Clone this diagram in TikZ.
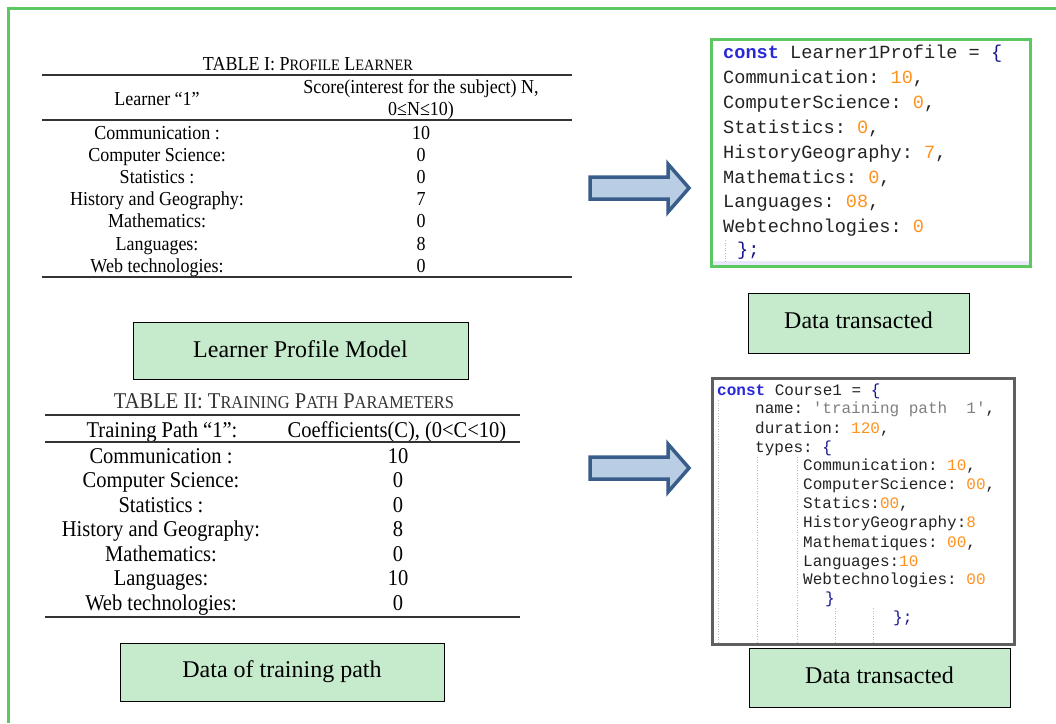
\documentclass[tikz,border=0pt]{standalone}
\usepackage{fontspec}
\setmainfont{Liberation Serif}
\setmonofont{Liberation Mono}
\definecolor{frameg}{RGB}{92,200,98}
\definecolor{boxg}{RGB}{198,235,204}
\definecolor{arrfill}{RGB}{185,205,228}
\definecolor{arrdraw}{RGB}{56,93,138}
\definecolor{kw}{RGB}{40,40,215}
\definecolor{num}{RGB}{255,145,30}
\definecolor{idc}{RGB}{35,35,35}
\definecolor{pun}{RGB}{20,20,140}
\definecolor{strc}{RGB}{128,128,128}
\definecolor{guide}{RGB}{185,185,185}
\definecolor{codeborder}{RGB}{95,95,95}
\definecolor{lav}{RGB}{232,232,250}
\newcommand\fsc[1]{\scalebox{0.8}{#1}}
\newcommand\vst[1]{\scalebox{1}[1.1]{#1}}
\newcommand\kwd[1]{\textcolor{kw}{#1}}
\newcommand\nm[1]{\textcolor{num}{#1}}
\newcommand\pn[1]{\textcolor{pun}{#1}}
\begin{document}
\begin{tikzpicture}[x=1pt,y=-1pt,
  labelbox/.style={draw=black, line width=1pt, fill=boxg, inner sep=0,
    font=\fontsize{24}{28}\selectfont},
  tI/.style={anchor=base, inner sep=0, font=\fontsize{18}{20}\selectfont},
  tII/.style={anchor=base, inner sep=0, font=\fontsize{20.5}{22}\selectfont},
  rule/.style={line width=1.5pt, draw=black!80},
  codeA/.style={anchor=base west, inner sep=0, text=idc, font=\fontsize{18.6}{20}\ttfamily},
  codeB/.style={anchor=base west, inner sep=0, text=idc, font=\fontsize{16}{18}\ttfamily},
  guideline/.style={draw=guide, line width=0.6pt, dotted},
  bigarrow/.style={fill=arrfill, draw=arrdraw, line width=3.5pt, line join=miter}
]
\useasboundingbox (0,0) rectangle (1056,723);
\fill[white] (0,0) rectangle (1056,723);

% outer frame (open to the right and bottom)
\draw[frameg, line width=2.8pt] (8.7,723) -- (8.7,8.7) -- (1056,8.7);

% ---------- TABLE I ----------
\node[tI] (t1title) at (308,70) {\vst{TABLE I: P\fsc{ROFILE} L\fsc{EARNER}}};
\draw[rule] (42,75) -- (572,75);
\node[tI] (t1h1) at (157,105) {\vst{Learner “1”}};
\node[tI] (t1h2a) at (421,93) {\vst{Score(interest for the subject) N,}};
\node[tI] (t1h2b) at (421,115) {\vst{0≤N≤10)}};
\draw[rule] (42,120) -- (572,120);
\foreach \lab/\val [count=\i] in {Communication :/10, Computer Science:/0, Statistics :/0,
   History and Geography:/7, Mathematics:/0, Languages:/8, Web technologies:/0}{
  \node[tI] (t1l\i) at (157,{139+(\i-1)*22.2}) {\vst{\lab}};
  \node[tI] (t1v\i) at (421,{139+(\i-1)*22.2}) {\vst{\val}};
}
\draw[rule] (42,277) -- (572,277);

\node[labelbox, minimum width=335, minimum height=57] (lpm) at (300.5,350.5) {\raisebox{2pt}{Learner Profile Model}};

% ---------- TABLE II ----------
\node[tII, text=black!80] (t2title) at (284,408) {\vst{TABLE II: T\fsc{RAINING} P\fsc{ATH} P\fsc{ARAMETERS}}};
\draw[rule] (45,415) -- (520,415);
\node[tII] (t2h1) at (162,437) {\vst{Training Path “1”:}};
\node[tII] (t2h2) at (397,437) {\vst{Coefficients(C), (0<C<10)}};
\draw[rule] (45,442) -- (520,442);
\foreach \lab/\val [count=\i] in {Communication :/10, Computer Science:/0, Statistics :/0,
   History and Geography:/8, Mathematics:/0, Languages:/10, Web technologies:/0}{
  \node[tII] (t2l\i) at (161,{463+(\i-1)*24.5}) {\vst{\lab}};
  \node[tII] (t2v\i) at (398,{463+(\i-1)*24.5}) {\vst{\val}};
}
\draw[rule] (45,617) -- (520,617);

\node[labelbox, minimum width=324, minimum height=58] (dtp) at (282,672) {\raisebox{2pt}{Data of training path}};

% ---------- arrows ----------
\draw[bigarrow] (590,177) -- (668,177) -- (668,164) -- (689,188) -- (668,212) -- (668,199) -- (590,199) -- cycle;
\draw[bigarrow] (590,457) -- (668,457) -- (668,444) -- (689,468) -- (668,492) -- (668,479) -- (590,479) -- cycle;

% ---------- code box 1 ----------
\fill[lav] (712,261) rectangle (1030,267);
\node[draw=frameg, line width=3pt, minimum width=319, minimum height=227, inner sep=0] (code1) at (871,153) {};
\draw[guideline] (725,240) -- (725,262);
\node[codeA] (c1l1) at (723,58) {\kwd{\bfseries const} Learner1Profile = \pn{\{}};
\node[codeA] (c1l2) at (723,83) {Communication: \nm{10},};
\node[codeA] (c1l3) at (723,108) {ComputerScience: \nm{0},};
\node[codeA] (c1l4) at (723,133) {Statistics: \nm{0},};
\node[codeA] (c1l5) at (723,158) {HistoryGeography: \nm{7},};
\node[codeA] (c1l6) at (723,183) {Mathematics: \nm{0},};
\node[codeA] (c1l7) at (723,207) {Languages: \nm{08},};
\node[codeA] (c1l8) at (723,232) {Webtechnologies: \nm{0}};
\node[codeA] (c1l9) at (737,255) {\pn{\};}};

\node[labelbox, minimum width=221, minimum height=60] (dt1) at (858.5,323) {\raisebox{5pt}{Data transacted}};

% ---------- code box 2 ----------
\node[draw=codeborder, line width=3pt, minimum width=302, minimum height=266, inner sep=0] (code2) at (863.5,511.5) {};
\draw[guideline] (718,400) -- (718,643);
\draw[guideline] (757,457) -- (757,643);
\draw[guideline] (797,457) -- (797,643);
\draw[guideline] (835,608) -- (835,643);
\draw[guideline] (873,608) -- (873,643);
\node[codeB] (c2l1) at (717,395) {\kwd{\bfseries const} Course1 = \pn{\{}};
\node[codeB] (c2l2) at (755,413) {name: \textcolor{strc}{{\char39}training path\ \ 1{\char39}},};
\node[codeB] (c2l3) at (755,433) {duration: \nm{120},};
\node[codeB] (c2l4) at (755,452) {types: \pn{\{}};
\node[codeB] (c2l5) at (803,470) {Communication: \nm{10},};
\node[codeB] (c2l6) at (803,489) {ComputerScience: \nm{00},};
\node[codeB] (c2l7) at (803,508) {Statics:\nm{00},};
\node[codeB] (c2l8) at (803,527) {HistoryGeography:\nm{8}};
\node[codeB] (c2l9) at (803,547) {Mathematiques: \nm{00},};
\node[codeB] (c2l10) at (803,566) {Languages:\nm{10}};
\node[codeB] (c2l11) at (803,584) {Webtechnologies: \nm{00}};
\node[codeB] (c2l12) at (825,603) {\pn{\}}};
\node[codeB] (c2l13) at (893,622) {\pn{\};}};

\node[labelbox, minimum width=261, minimum height=59] (dt2) at (879.5,677.5) {\raisebox{5pt}{Data transacted}};
\end{tikzpicture}
\end{document}
